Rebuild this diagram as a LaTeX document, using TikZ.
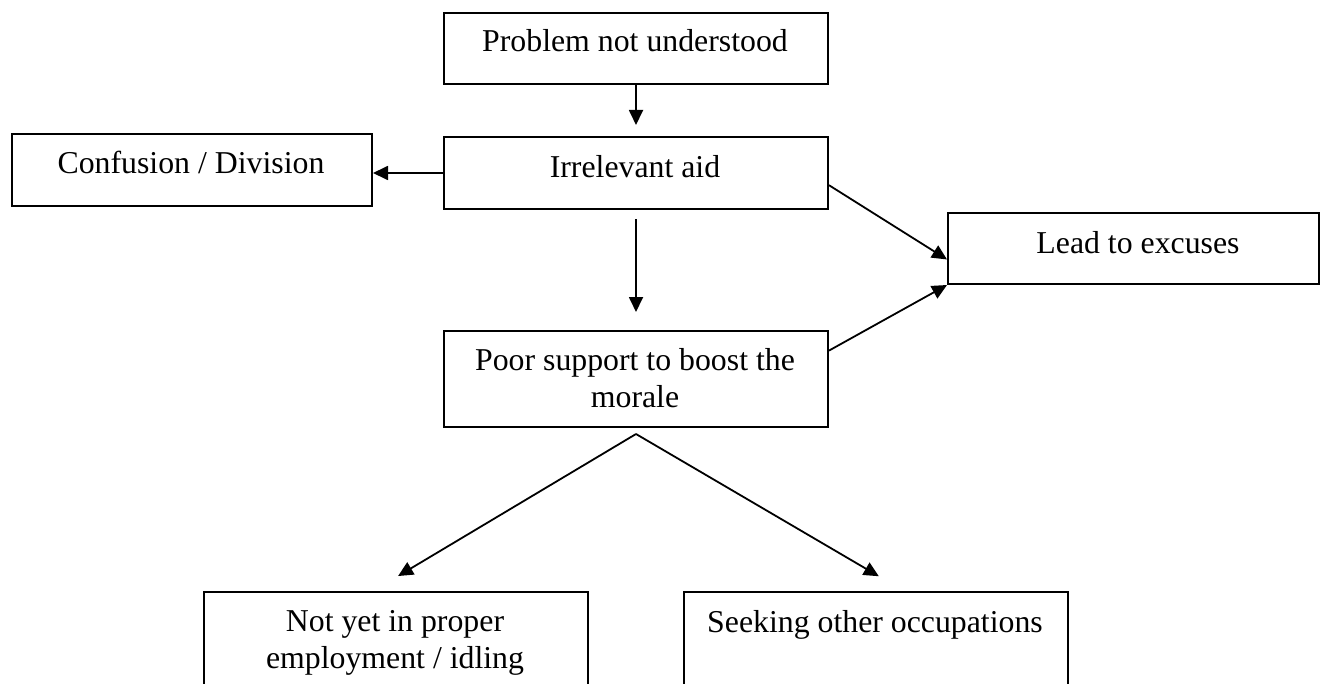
\documentclass[tikz,border=0pt]{standalone}
\usepackage{fontspec}
\setmainfont{Liberation Serif}
\usetikzlibrary{arrows.meta,calc}
\begin{document}
\begin{tikzpicture}[x=0.5pt,y=-0.5pt,
  box/.style={draw,line width=1pt,rectangle,inner sep=0pt,anchor=north west},
  lbl/.style={font=\fontsize{15.9pt}{18.5pt}\selectfont,anchor=base,inner sep=0pt,align=center},
  arr/.style={line width=0.9pt,-{Triangle[length=7.5pt,width=7pt]}}]
\useasboundingbox (0,0) rectangle (1320,684);
\clip (0,0) rectangle (1320,684);

% boxes
\node[box,minimum width=192pt,minimum height=35.5pt] (prob) at (443,12) {};
\node[box,minimum width=192pt,minimum height=36pt] (irr) at (443,136) {};
\node[box,minimum width=180pt,minimum height=36pt] (conf) at (11,133) {};
\node[box,minimum width=185.5pt,minimum height=35.5pt] (lead) at (947,212) {};
\node[box,minimum width=192pt,minimum height=48pt] (poor) at (443,330) {};
\node[box,minimum width=192pt,minimum height=65pt] (nl) at (203,591) {};
\node[box,minimum width=192pt,minimum height=65pt] (occ) at (683,591) {};

% texts (two-line labels are anchored at the baseline of their last line)
\node[lbl] (tprob) at (635,52) {Problem not understood};
\node[lbl] (tirr) at (635,177) {Irrelevant aid};
\node[lbl] (tconf) at (191,174) {Confusion / Division};
\node[lbl] (tlead) at (1138,253) {Lead to excuses};
\node[lbl] (tpoor) at (635,407) {Poor support to boost the\\morale};
\node[lbl] (tnl) at (395,668) {Not yet in proper\\employment / idling};
\node[lbl] (tocc) at (875,632) {Seeking other occupations};

% connectors
\coordinate (fork) at ([yshift=-3pt]poor.south);
\draw[arr,shorten >=5.5pt] (prob.south) -- (irr.north);
\draw[arr] (irr.west) -- (irr.west -| conf.east);
\draw[arr] ($(irr.east)!0.33!(irr.south east)$) -- ($(lead.west)!0.3!(lead.south west)$);
\draw[arr,shorten <=4.5pt,shorten >=9pt] (irr.south) -- (poor.north);
\draw[arr] ($(poor.north east)!0.42!(poor.east)$) -- (lead.south west);
\draw[arr,shorten >=14.6pt] (fork) -- ([xshift=-11.5pt]nl.north);
\draw[arr,shorten >=14.6pt] (fork) -- ([xshift=14pt]occ.north);
\end{tikzpicture}
\end{document}
